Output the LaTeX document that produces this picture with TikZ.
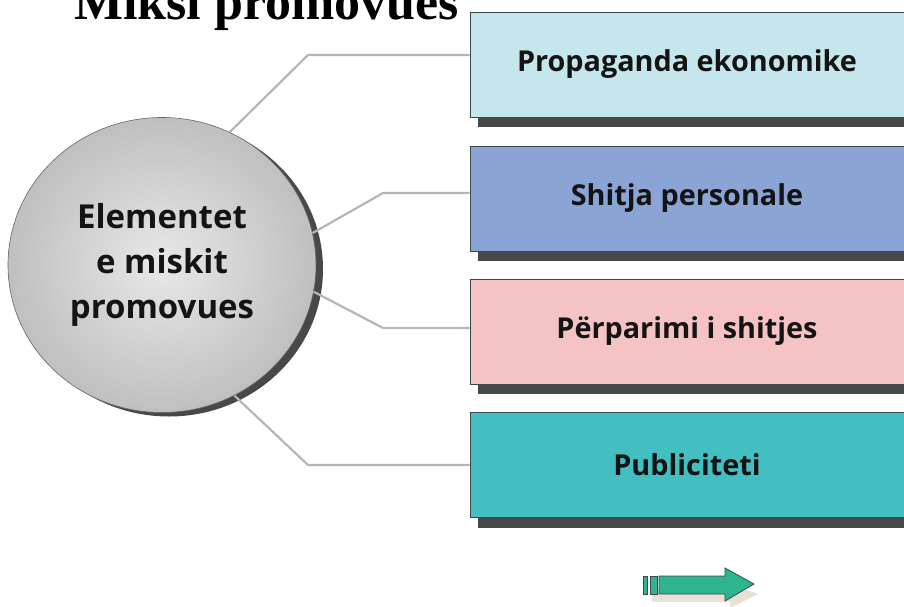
\documentclass[tikz,border=0pt]{standalone}
\usepackage{fontspec}
\setmainfont{Open Sans}
\newfontfamily\titlefont{Liberation Serif}
\usetikzlibrary{shapes.geometric,calc}
\definecolor{boxA}{HTML}{C4E6EC}
\definecolor{boxB}{HTML}{8AA4D6}
\definecolor{boxC}{HTML}{F6C3C5}
\definecolor{boxD}{HTML}{43BFC1}
\definecolor{edgeline}{HTML}{3A4A4C}
\definecolor{shadowgray}{HTML}{464849}
\definecolor{linkgray}{HTML}{B5B5B5}
\definecolor{arrowgreen}{HTML}{2FB58E}
\definecolor{arrowshadow}{HTML}{E6E2D6}
\begin{document}
\begin{tikzpicture}[x=1pt,y=-1pt,
  itembox/.style={rectangle, draw=edgeline, line width=0.8pt, minimum width=434pt,
    minimum height=105pt, inner sep=0pt,
    font=\fontsize{28.8}{34}\selectfont\bfseries, text=black!92},
  link/.style={draw=linkgray, line width=2.2pt, line join=round},
  hubstyle/.style={ellipse, draw=black!60, line width=0.6pt, minimum width=308pt,
    minimum height=295pt, inner sep=0pt, shading=radial,
    inner color=black!9, outer color=black!25, align=center,
    font=\fontsize{33}{45}\selectfont\bfseries, text=black!92}]
  \useasboundingbox (0,0) rectangle (904,607);
  \clip (0,0) rectangle (904,607);

  % heading, partly above the top edge
  \node[anchor=base west, inner sep=0pt, font=\titlefont\fontsize{52}{60}\selectfont\bfseries]
    (title) at (74,20) {Miksi promovues};

  % box shadows
  \foreach \yy in {64.5,198.5,331.5,465}
    \fill[shadowgray] (478,\yy-42.5) rectangle (910,\yy+62.5);

  % the four boxes
  \node[itembox, fill=boxA] (b1) at (687,64.5) {Propaganda ekonomike};
  \node[itembox, fill=boxB] (b2) at (687,198.5) {Shitja personale};
  \node[itembox, fill=boxC] (b3) at (687,331.5) {Përparimi i shitjes};
  \node[itembox, fill=boxD] (b4) at (687,465) {Publiciteti};

  % central circle with its shadow
  \fill[shadowgray] (169,269) ellipse [x radius=154pt, y radius=147.5pt];
  \node[hubstyle] (hub) at (162,265) {Elementet\\e miskit\\promovues};

  % connectors
  \coordinate (k1) at (308,55);
  \coordinate (k2) at (383,193);
  \coordinate (k3) at (383,328);
  \coordinate (k4) at (308,465);
  \draw[link] (hub.63) -- (k1) -- (k1 -| b1.west);
  \draw[link] (hub.12) -- (k2) -- (k2 -| b2.west);
  \draw[link] (hub.-10) -- (k3) -- (k3 -| b3.west);
  \draw[link] (hub.-61) -- (k4) -- (k4 -| b4.west);

  % small arrow at the bottom
  \fill[arrowshadow] (652,590) rectangle (730,602);
  \fill[arrowshadow] (730,584) -- (758,594) -- (730,608) -- cycle;
  \draw[edgeline, fill=arrowgreen, line width=0.8pt]
    (659,576) -- (725,576) -- (725,568) -- (754,584) -- (725,601) -- (725,594) -- (659,594) -- cycle;
  \draw[edgeline, fill=arrowgreen, line width=0.8pt] (650,576) rectangle (657,594);
  \draw[edgeline, fill=arrowgreen, line width=0.8pt] (643,576) rectangle (647,594);
\end{tikzpicture}
\end{document}
